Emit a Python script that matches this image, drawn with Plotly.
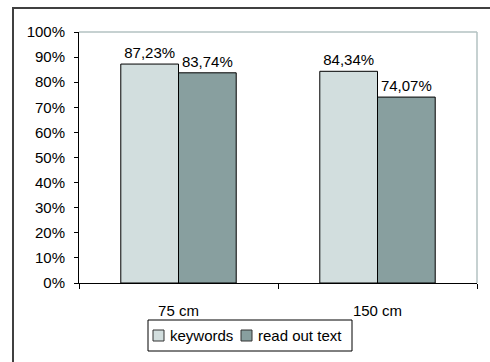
import plotly.graph_objects as go

categories = ["75 cm", "150 cm"]
series_names = ["keywords", "read out text"]
keywords = [87.23, 84.34]
read_out = [83.74, 74.07]
y_ticks = [0, 10, 20, 30, 40, 50, 60, 70, 80, 90, 100]
y_tick_labels = [f"{v}%" for v in y_ticks]
colors = ["#d2dede", "#889f9f"]

def fmt(v):
    return f"{v:.2f}".replace(".", ",") + "%"

W, H = 490, 362
L, R, T, B = 79, 13, 32, 79
pw, ph = W - L - R, H - T - B

def px(x):
    return (x - L) / pw

def py(y):
    return (H - B - y) / ph

font = dict(family="Liberation Sans, Arial, sans-serif", size=15, color="black")

fig = go.Figure()
for name, vals, col in zip(series_names, [keywords, read_out], colors):
    fig.add_trace(go.Bar(
        name=name, x=categories, y=vals,
        text=[fmt(v) for v in vals], textposition="outside",
        marker=dict(color=col, line=dict(color="black", width=1)),
        textfont=font, cliponaxis=False,
    ))

shapes = [
    dict(type="line", xref="paper", yref="paper", x0=0, x1=1, y0=1, y1=1,
         line=dict(color="#b3c2c2", width=1.5)),
    dict(type="line", xref="paper", yref="paper", x0=1, x1=1, y0=0, y1=1,
         line=dict(color="#b3c2c2", width=1.5)),
    dict(type="path", xref="paper", yref="paper",
         path=f"M {px(13)} {py(400)} L {px(13)} {py(8)} L {px(520)} {py(8)}",
         line=dict(color="#404040", width=2)),
    # legend box
    dict(type="rect", xref="paper", yref="paper",
         x0=px(148), x1=px(352), y0=py(351), y1=py(320),
         line=dict(color="black", width=1), fillcolor="white"),
]
annotations = []
leg_sq_x = [153, 241]
leg_txt_x = [169, 257]
leg_cy = 335.5
for name, col, sx, tx in zip(series_names, colors, leg_sq_x, leg_txt_x):
    shapes.append(dict(type="rect", xref="paper", yref="paper",
                       x0=px(sx), x1=px(sx + 11), y0=py(leg_cy + 5.5), y1=py(leg_cy - 5.5),
                       line=dict(color="#333333", width=1), fillcolor=col))
    annotations.append(dict(text=name, xref="paper", yref="paper", x=px(tx), y=py(leg_cy),
                            xanchor="left", yanchor="middle", showarrow=False,
                            font=font, xshift=-1))

fig.update_layout(
    width=W, height=H,
    margin=dict(l=L, r=R, t=T, b=B),
    paper_bgcolor="white", plot_bgcolor="white",
    font=font,
    barmode="group", bargap=0.42, bargroupgap=0,
    showlegend=False,
    xaxis=dict(
        showline=True, linecolor="black", linewidth=1,
        ticks="outside", ticklen=5, tickcolor="black", tickson="boundaries",
        showgrid=False, tickfont=font, ticklabelstandoff=14,
    ),
    yaxis=dict(
        range=[0, 100], tickvals=y_ticks, ticktext=y_tick_labels,
        showline=True, linecolor="black", linewidth=1,
        ticks="outside", ticklen=4, tickcolor="black",
        showgrid=False, zeroline=False, tickfont=font, ticklabelstandoff=6,
    ),
    shapes=shapes,
    annotations=annotations,
)

fig.write_html("out.html")
